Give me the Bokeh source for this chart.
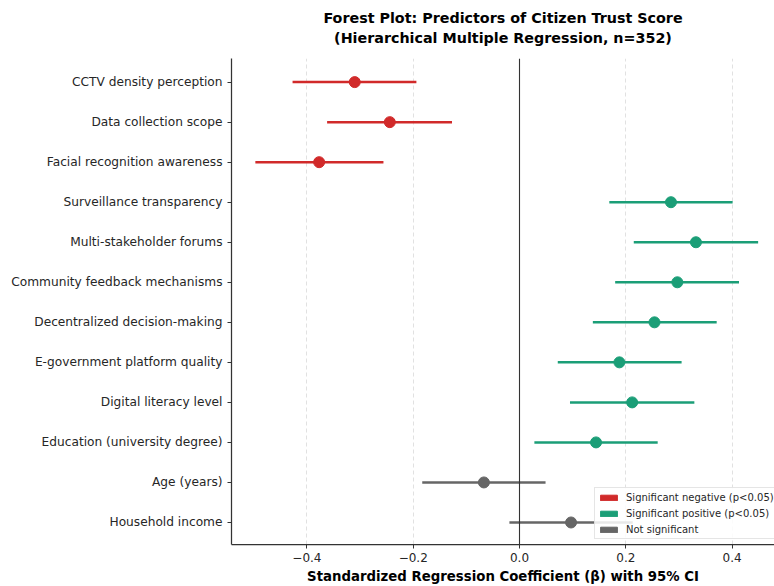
from bokeh.plotting import figure
from bokeh.models import ColumnDataSource, Range1d, FixedTicker, CustomJSTickFormatter, Span, Title, Legend, LegendItem
from bokeh.embed import file_html
from bokeh.resources import INLINE

# ---- data ----
predictors = [
    "CCTV density perception",
    "Data collection scope",
    "Facial recognition awareness",
    "Surveillance transparency",
    "Multi-stakeholder forums",
    "Community feedback mechanisms",
    "Decentralized decision-making",
    "E-government platform quality",
    "Digital literacy level",
    "Education (university degree)",
    "Age (years)",
    "Household income",
]
beta = [-0.310, -0.244, -0.377, 0.285, 0.332, 0.297, 0.254, 0.188, 0.212, 0.144, -0.067, 0.097]
ci_low = [-0.427, -0.362, -0.497, 0.169, 0.215, 0.180, 0.138, 0.072, 0.095, 0.028, -0.183, -0.019]
ci_high = [-0.194, -0.127, -0.256, 0.401, 0.449, 0.413, 0.371, 0.305, 0.329, 0.260, 0.049, 0.213]
significance = ["neg", "neg", "neg", "pos", "pos", "pos", "pos", "pos", "pos", "pos", "ns", "ns"]
x_ticks = [-0.4, -0.2, 0.0, 0.2, 0.4]
title_lines = ["Forest Plot: Predictors of Citizen Trust Score",
               "(Hierarchical Multiple Regression, n=352)"]

group_colors = {"neg": "#d12a2a", "pos": "#1b9e77", "ns": "#666666"}
group_labels = {"neg": "Significant negative (p<0.05)",
                "pos": "Significant positive (p<0.05)",
                "ns": "Not significant"}

n = len(predictors)
ypos = [n - 1 - i for i in range(n)]
colors = [group_colors[s] for s in significance]

src = ColumnDataSource(dict(y=ypos, beta=beta, lo=ci_low, hi=ci_high, color=colors))

p = figure(width=774, height=586, output_backend="svg", toolbar_location=None,
           x_range=Range1d(-0.5419, 0.4798), y_range=Range1d(-0.55, 11.59),
           min_border_left=231, min_border_right=0, min_border_top=58, min_border_bottom=42)
p.background_fill_color = "white"
p.border_fill_color = "white"
p.outline_line_color = None

# grid
p.ygrid.grid_line_color = None
p.xgrid.grid_line_color = "#d9d9d9"
p.xgrid.grid_line_dash = "4 3"
p.xgrid.grid_line_width = 0.8
p.xgrid.ticker = FixedTicker(ticks=x_ticks)

# zero line
p.add_layout(Span(location=0, dimension="height", line_color="#333333", line_width=1.1))

p.segment(x0="lo", x1="hi", y0="y", y1="y", source=src, line_color="color", line_width=2.5)
p.scatter(x="beta", y="y", source=src, size=11, fill_color="color", line_color="color")

# legend via off-screen quads (patch handles)
items = []
for key in ["neg", "pos", "ns"]:
    r = p.quad(left=[5], right=[6], top=[100], bottom=[99],
               fill_color=group_colors[key], line_color=group_colors[key])
    items.append(LegendItem(label=group_labels[key], renderers=[r]))
legend = Legend(items=items, location=(363, 5), label_text_font="DejaVu Sans",
                label_text_font_size="10px", label_text_color="#262626",
                glyph_width=21, glyph_height=7, label_height=12, spacing=4, padding=3,
                label_standoff=7, margin=0, border_line_color="#cccccc", border_line_width=1,
                background_fill_color="white", background_fill_alpha=0.85)
p.add_layout(legend, "center")

# axes
for ax in (p.xaxis[0], p.yaxis[0]):
    ax.axis_line_color = "#333333"
    ax.axis_line_width = 1.25
    ax.major_tick_line_color = "#333333"
    ax.major_tick_line_width = 1
    ax.major_tick_out = 4
    ax.major_tick_in = 0
    ax.minor_tick_line_color = None
    ax.major_label_text_font = "DejaVu Sans"
    ax.major_label_text_color = "#262626"

p.xaxis.major_label_text_font_size = "12px"
p.yaxis.major_label_text_font_size = "12.2px"

p.xaxis.ticker = FixedTicker(ticks=x_ticks)
p.xaxis.formatter = CustomJSTickFormatter(code="return tick.toFixed(1).replace('-', '\u2212');")
p.xaxis.major_label_standoff = 4
p.xaxis.axis_label = "Standardized Regression Coefficient (\u03b2) with 95% CI"
p.xaxis.axis_label_text_font = "DejaVu Sans"
p.xaxis.axis_label_text_font_style = "bold"
p.xaxis.axis_label_text_font_size = "13.3px"
p.xaxis.axis_label_text_color = "black"
p.xaxis.axis_label_standoff = 4

p.yaxis.ticker = FixedTicker(ticks=ypos)
p.yaxis.major_label_overrides = {y: name for y, name in zip(ypos, predictors)}
p.yaxis.major_label_standoff = 5

spacer = Title(text=" ", text_font_size="1px", standoff=8)
t2 = Title(text=title_lines[1], align="center", text_font="DejaVu Sans", text_font_size="14.3px",
           text_font_style="bold", text_color="black", standoff=4, text_line_height=0.9)
t1 = Title(text=title_lines[0], align="center", text_font="DejaVu Sans", text_font_size="14.3px",
           text_font_style="bold", text_color="black", standoff=0, text_line_height=1.0)
p.add_layout(spacer, "above")
p.add_layout(t2, "above")
p.add_layout(t1, "above")

open("out.html", "w").write(file_html(p, INLINE))
